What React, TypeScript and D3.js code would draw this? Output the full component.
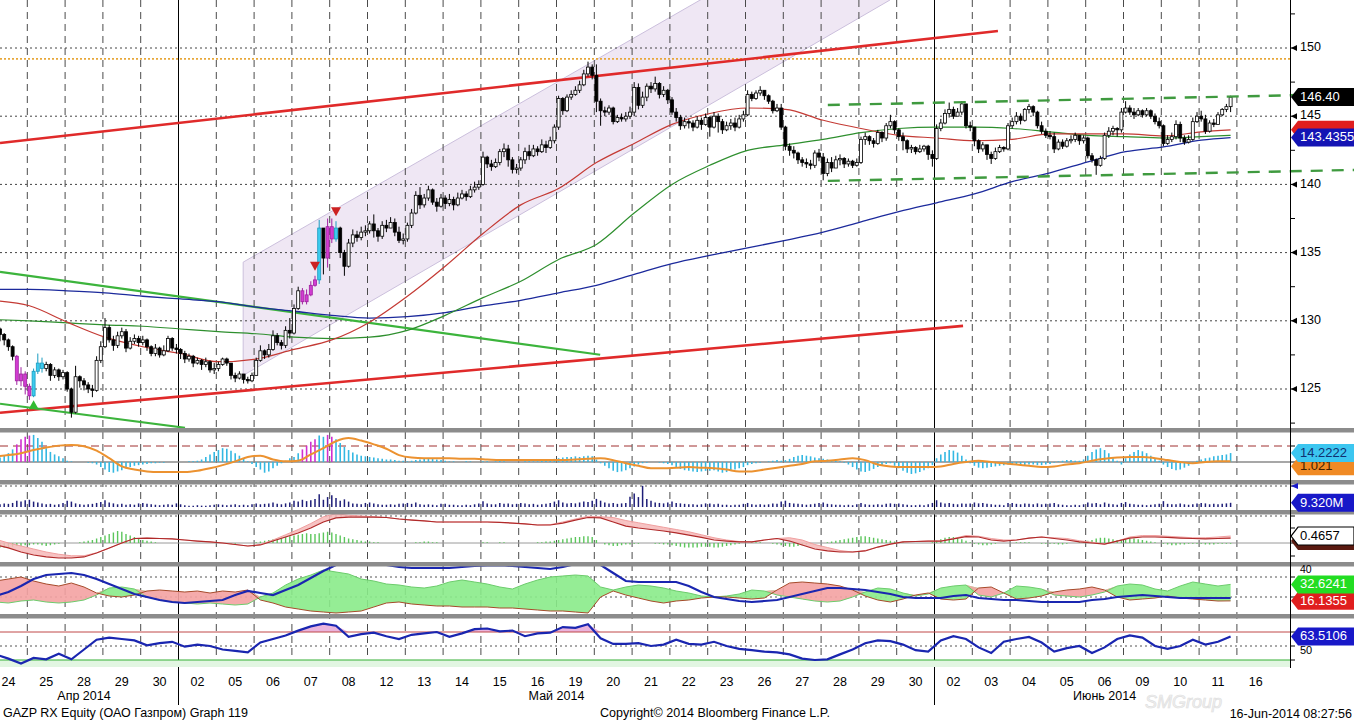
import * as d3 from 'd3';

// ---------- data ----------
const dayLabels = ['24', '25', '28', '29', '30', '02', '05', '06', '07', '08', '12', '13', '14', '15', '16', '19', '20', '21', '22', '23', '26', '27', '28', '29', '30', '02', '03', '04', '05', '06', '09', '10', '11', '16'];
const monthLabels = ['Апр 2014', 'Май 2014', 'Июнь 2014'];
const monthCenters = [2.5, 15, 29.5]; // in trading-day units
const monthBreaks = [5, 25];

// hourly candles, one row per trading day
const firstOpen = 130.0;
const closes = [
  [129.8, 129.4, 129.0, 128.6, 128.1, 127.4, 125.6, 126.1, 125.2],
  [124.5, 126.3, 126.9, 126.5, 126.8, 126.0, 126.4, 125.9, 126.2],
  [125.0, 123.3, 125.9, 125.6, 125.3, 125.0, 124.9, 127.1, 128.1],
  [129.5, 128.6, 128.2, 128.9, 129.2, 128.0, 128.5, 128.7, 128.4],
  [128.6, 128.1, 127.6, 128.0, 127.5, 127.8, 128.7, 128.0, 127.9],
  [127.6, 127.2, 127.4, 126.9, 127.1, 126.8, 127.0, 126.4, 126.5],
  [126.8, 127.2, 126.9, 126.0, 125.8, 126.1, 125.7, 125.6, 126.0],
  [127.1, 127.8, 127.5, 127.9, 128.9, 128.4, 128.2, 129.3, 129.1],
  [130.9, 132.2, 131.4, 131.9, 132.6, 133.0, 136.8, 134.6, 136.9],
  [136.0, 136.8, 135.0, 134.0, 135.7, 136.3, 136.1, 136.5, 136.6],
  [137.1, 136.6, 136.2, 137.0, 136.8, 137.2, 136.5, 135.9, 136.0],
  [137.0, 137.9, 139.2, 138.5, 139.0, 139.6, 138.7, 138.4, 139.0],
  [138.6, 138.9, 138.5, 139.0, 139.3, 139.1, 139.6, 139.8, 140.0],
  [142.0, 141.5, 141.3, 141.6, 142.4, 142.6, 141.8, 141.1, 141.2],
  [141.8, 142.4, 142.1, 142.6, 142.4, 142.9, 142.7, 143.2, 144.2],
  [146.3, 145.4, 146.4, 146.6, 146.9, 147.3, 148.1, 148.6, 148.0],
  [146.1, 145.4, 145.3, 145.6, 144.6, 144.9, 144.8, 145.0, 145.3],
  [147.1, 145.8, 146.4, 147.2, 147.0, 147.4, 146.6, 146.9, 146.2],
  [145.3, 144.9, 144.3, 144.6, 144.5, 144.2, 144.7, 144.4, 144.9],
  [144.2, 145.0, 144.6, 144.0, 144.3, 144.5, 144.2, 144.8, 145.1],
  [146.6, 146.3, 146.7, 146.9, 146.5, 146.1, 145.4, 145.6, 144.2],
  [142.8, 142.5, 142.3, 141.8, 141.6, 141.5, 141.4, 142.3, 142.0],
  [140.8, 141.6, 141.2, 141.8, 141.9, 141.5, 141.7, 141.4, 141.6],
  [143.3, 143.5, 143.2, 143.0, 143.8, 143.4, 144.3, 144.6, 144.0],
  [143.5, 143.2, 142.6, 142.7, 142.4, 142.6, 142.8, 142.2, 141.9],
  [144.1, 144.5, 145.2, 145.5, 145.0, 145.3, 145.9, 144.3, 144.2],
  [143.2, 142.6, 142.9, 142.2, 141.9, 142.4, 142.7, 142.6, 144.3],
  [144.6, 145.0, 144.7, 145.5, 145.7, 145.3, 144.3, 143.9, 143.6],
  [143.5, 142.6, 143.1, 142.8, 143.2, 143.3, 143.6, 143.2, 143.4],
  [142.1, 141.8, 141.4, 141.9, 143.6, 143.9, 144.1, 144.0, 145.3],
  [145.6, 145.3, 145.1, 145.4, 145.1, 145.4, 145.0, 144.6, 144.3],
  [143.0, 143.3, 143.5, 144.4, 143.4, 143.1, 143.3, 144.6, 145.0],
  [144.8, 143.9, 144.5, 144.4, 145.1, 145.5, 145.7, 146.4],
];
const highs = [
  [130.0, 129.9, 129.5, 129.1, 128.7, 128.2, 127.5, 126.6, 126.3],
  [125.4, 126.5, 127.6, 127.3, 127.0, 126.9, 126.6, 126.5, 126.4],
  [126.3, 125.1, 126.7, 126.0, 125.8, 125.5, 125.3, 127.4, 128.5],
  [130.2, 129.7, 128.9, 129.2, 129.5, 129.4, 128.8, 129.0, 128.9],
  [128.9, 128.7, 128.2, 128.3, 128.1, 128.2, 128.9, 128.8, 128.3],
  [128.0, 127.8, 127.6, 127.5, 127.3, 127.2, 127.3, 127.1, 126.9],
  [127.0, 127.3, 127.3, 126.9, 126.2, 126.3, 126.1, 125.9, 126.2],
  [127.3, 128.2, 127.9, 128.3, 129.3, 129.1, 128.6, 129.6, 130.2],
  [131.2, 132.5, 132.4, 132.3, 132.9, 133.3, 137.4, 135.4, 137.5],
  [137.5, 137.3, 136.9, 135.2, 136.0, 136.7, 136.6, 136.9, 137.0],
  [137.3, 137.8, 136.8, 137.3, 137.4, 137.6, 137.5, 136.9, 136.4],
  [137.2, 138.2, 139.5, 139.8, 139.3, 139.9, 139.7, 139.0, 139.3],
  [139.2, 139.3, 139.1, 139.4, 139.6, 139.5, 139.9, 140.2, 140.3],
  [142.4, 142.1, 141.8, 141.9, 142.6, 143.0, 142.9, 142.0, 141.5],
  [142.0, 142.7, 142.9, 142.9, 142.8, 143.3, 143.2, 143.5, 144.4],
  [146.5, 146.4, 146.6, 146.9, 147.2, 147.6, 148.4, 149.0, 148.8],
  [148.8, 146.3, 145.7, 145.8, 145.7, 145.1, 145.2, 145.3, 145.7],
  [147.5, 147.4, 146.8, 147.4, 147.5, 147.9, 147.5, 147.2, 147.0],
  [146.4, 145.6, 145.1, 144.9, 144.8, 144.7, 145.0, 144.9, 145.2],
  [145.0, 145.3, 145.2, 144.8, 144.6, 144.8, 144.9, 145.1, 145.4],
  [146.9, 146.8, 146.9, 147.2, 146.9, 146.6, 146.2, 145.9, 145.9],
  [144.3, 143.0, 142.8, 142.4, 142.0, 141.9, 141.8, 142.5, 142.6],
  [142.3, 141.9, 142.0, 142.1, 142.2, 142.0, 141.9, 141.8, 141.9],
  [143.5, 143.8, 143.6, 143.4, 144.0, 143.9, 144.5, 145.1, 144.7],
  [144.1, 143.8, 143.3, 142.9, 142.8, 142.9, 142.9, 142.9, 142.5],
  [144.4, 144.8, 145.5, 146.0, 145.7, 145.6, 146.1, 145.2, 144.6],
  [143.9, 143.3, 143.1, 142.9, 142.4, 142.7, 142.9, 142.8, 144.5],
  [144.9, 145.3, 145.2, 145.6, 145.9, 145.8, 145.4, 144.6, 144.1],
  [143.9, 143.8, 143.3, 143.3, 143.4, 143.6, 143.8, 143.6, 143.6],
  [143.5, 142.3, 141.9, 142.1, 143.8, 144.2, 144.3, 144.2, 145.6],
  [146.1, 145.8, 145.6, 145.6, 145.5, 145.6, 145.5, 145.2, 144.9],
  [144.4, 143.6, 143.8, 144.7, 144.6, 143.6, 143.6, 144.9, 145.3],
  [145.4, 145.1, 144.7, 144.8, 145.3, 145.6, 145.9, 146.5],
];
const lows = [
  [129.3, 129.0, 128.5, 128.2, 127.8, 127.1, 125.3, 125.2, 124.6],
  [124.2, 124.4, 126.1, 126.2, 126.3, 125.6, 125.8, 125.6, 125.7],
  [124.8, 122.9, 123.2, 125.1, 124.9, 124.7, 124.4, 124.8, 126.9],
  [128.0, 128.4, 127.8, 128.0, 128.7, 127.7, 127.9, 128.3, 128.1],
  [128.2, 127.8, 127.4, 127.4, 127.3, 127.4, 127.7, 127.8, 127.6],
  [127.2, 126.9, 127.0, 126.6, 126.8, 126.4, 126.6, 126.2, 126.1],
  [126.3, 126.7, 126.7, 125.7, 125.5, 125.7, 125.4, 125.4, 125.5],
  [126.1, 127.0, 127.2, 127.3, 127.8, 128.2, 127.9, 128.0, 128.7],
  [129.0, 130.8, 131.2, 131.2, 131.8, 132.5, 132.7, 133.4, 133.9],
  [135.7, 135.8, 134.6, 133.3, 133.9, 135.4, 135.8, 135.9, 136.2],
  [136.4, 136.1, 135.8, 136.0, 136.5, 136.8, 136.2, 135.7, 135.6],
  [135.8, 136.8, 137.8, 138.2, 138.3, 138.8, 138.5, 138.0, 138.3],
  [138.2, 138.4, 138.1, 138.4, 138.9, 138.8, 139.0, 139.4, 139.6],
  [139.9, 141.2, 141.0, 141.2, 141.4, 142.0, 141.3, 140.8, 140.8],
  [141.0, 141.5, 141.8, 142.0, 142.1, 142.3, 142.3, 142.6, 143.0],
  [144.0, 145.1, 145.3, 146.2, 146.5, 146.7, 147.2, 147.9, 147.7],
  [145.3, 144.3, 145.0, 145.1, 144.4, 144.5, 144.6, 144.6, 144.8],
  [145.0, 145.5, 145.6, 146.1, 146.7, 146.8, 146.3, 146.4, 145.9],
  [145.1, 144.6, 144.0, 144.1, 144.1, 143.9, 144.1, 144.0, 144.3],
  [143.5, 144.1, 143.8, 143.7, 143.9, 144.0, 143.9, 144.1, 144.6],
  [145.0, 146.1, 146.2, 146.5, 146.2, 145.9, 145.2, 145.3, 144.0],
  [142.5, 142.1, 141.9, 141.5, 141.3, 141.2, 141.1, 141.2, 141.7],
  [140.3, 140.6, 140.9, 141.2, 141.4, 141.2, 141.3, 141.2, 141.3],
  [141.5, 142.9, 142.9, 142.7, 142.9, 143.1, 143.2, 144.1, 143.7],
  [143.2, 142.5, 142.3, 142.3, 142.2, 142.3, 142.4, 141.8, 141.3],
  [141.8, 143.9, 144.4, 144.9, 144.8, 145.0, 145.1, 144.1, 143.9],
  [142.8, 142.3, 142.4, 141.8, 141.5, 141.8, 142.3, 142.4, 142.5],
  [144.1, 144.4, 144.4, 144.6, 145.2, 145.0, 144.1, 143.7, 143.4],
  [143.3, 142.3, 142.5, 142.6, 142.7, 143.0, 143.1, 142.9, 143.0],
  [141.9, 141.6, 140.7, 141.3, 141.8, 143.4, 143.6, 143.5, 143.8],
  [145.2, 145.1, 144.8, 145.0, 144.9, 145.0, 144.8, 144.4, 144.1],
  [142.8, 142.9, 143.1, 143.3, 143.1, 142.9, 143.0, 143.2, 144.5],
  [144.6, 143.7, 143.8, 144.2, 144.4, 145.0, 145.3, 145.3],
];
const magentaBars = ['0-6', '0-7', '0-8', '1-0', '8-2', '8-3', '8-4', '8-5', '8-8', '9-0'];
const cyanBars = ['1-1', '1-2', '1-3', '8-6', '9-1'];
const signalUp = ['1-1'];
const signalDown = ['8-5', '9-1'];

// moving averages: sampled at the first bar of each day, plus the last bar
const maRed = [131.5, 131.1, 129.9, 128.8, 128.1, 127.6, 127.0, 127.2, 127.9, 128.6, 129.9, 131.8, 134.0, 136.4, 138.5, 139.7, 141.6, 143.0, 144.4, 145.2, 145.6, 145.5, 144.7, 144.1, 143.6, 143.4, 143.2, 143.3, 143.7, 143.7, 143.7, 143.55, 143.85, 144.0];
const maGreen = [130.1, 130.0, 129.85, 129.7, 129.6, 129.4, 129.2, 129.05, 128.8, 128.7, 128.8, 129.3, 130.4, 131.7, 132.9, 134.5, 135.6, 137.9, 140.0, 141.4, 142.5, 142.9, 143.3, 143.8, 144.1, 144.2, 144.2, 144.1, 143.85, 143.6, 143.5, 143.4, 143.5, 143.6];
const maBlue = [132.3, 132.3, 132.2, 132.05, 131.8, 131.6, 131.4, 131.0, 130.7, 130.4, 130.2, 130.3, 130.6, 131.1, 131.5, 132.05, 132.6, 133.4, 134.2, 134.8, 135.35, 135.9, 136.5, 137.25, 138.0, 138.65, 139.3, 140.2, 140.85, 141.65, 142.4, 142.75, 143.25, 143.4355];

// drawn studies, as [bar index, price]
const redTop = [[2.5, 143.04], [240.1, 151.25]];
const redBottom = [[2.5, 123.26], [231.8, 129.63]];
const greenFalling = [[2.5, 133.59], [145.4, 127.51]];
const greenLow = [[2.5, 123.92], [46.55, 122.16]];
const rangeTop = [[199.6, 145.82], [324.9, 146.63]];
const rangeBottom = [[199.6, 140.26], [324.9, 141.06]];
const channelTop = [[60.4, 134.3], [214.4, 161.5]];
const channelBottom = [[60.4, 126.0], [214.4, 153.52]];
const resistance = 149.2;

// oscillator panel (bars)
const macdHist = [
  [3, 5, 7, 10, 14, 20, 28, 36, 40],
  [42, 43, 38, 32, 22, 16, 12, 9, 6],
  [2, 1, 0, 0, 0, -1, -2, -4, -8],
  [-12, -16, -17, -15, -13, -10, -8, -6, -5],
  [-4, -3, -2, -2, -1, -1, 0, 0, 0],
  [0, 0, 1, 1, 2, 4, 8, 12, 16],
  [19, 22, 21, 18, 14, 10, 5, 1, -3],
  [-8, -12, -17, -15, -10, -6, -2, 2, 6],
  [8, 14, 20, 26, 32, 36, 42, 40, 43],
  [40, 36, 30, 24, 19, 15, 12, 10, 9],
  [8, 7, 6, 5, 4, 4, 3, 2, 2],
  [1, 2, 3, 4, 5, 6, 5, 4, 3],
  [2, 1, 1, 0, 0, 1, 1, 0, 0],
  [1, 1, 0, 1, 2, 1, 0, 0, 0],
  [0, 1, 1, 1, 1, 2, 2, 3, 5],
  [6, 7, 8, 8, 9, 8, 9, 10, 9],
  [4, -2, -6, -10, -14, -16, -15, -13, -10],
  [-7, -4, -2, -1, 0, 0, -1, -2, -3],
  [-5, -8, -11, -13, -14, -15, -16, -15, -14],
  [-14, -13, -15, -17, -16, -14, -12, -10, -8],
  [-5, -3, -2, -1, 0, 1, 2, 3, 2],
  [3, 5, 8, 10, 11, 10, 9, 7, 6],
  [5, 4, 3, 2, 1, -1, -4, -8, -12],
  [-15, -16, -14, -11, -8, -5, -3, -2, -6],
  [-10, -14, -17, -19, -18, -16, -13, -10, -5],
  [6, 12, 16, 19, 18, 15, 10, 4, -2],
  [-6, -9, -10, -9, -8, -7, -6, -5, -4],
  [-3, -4, -5, -5, -4, -4, -5, -5, -4],
  [-3, -1, 1, 2, 3, 3, 2, 2, 4],
  [10, 16, 20, 22, 19, 14, 8, 2, -4],
  [6, 12, 16, 19, 17, 14, 10, 6, 2],
  [-4, -8, -11, -13, -12, -9, -6, -2, 2],
  [4, 6, 7, 9, 10, 11, 12, 14.2222],
];
// volume, millions
const volume = [
  [9, 7, 6, 8, 7, 9, 14, 12, 15],
  [16, 12, 10, 8, 6, 7, 5, 6, 9],
  [14, 12, 8, 6, 5, 6, 7, 9, 11],
  [15, 10, 8, 6, 7, 5, 6, 5, 8],
  [9, 7, 6, 5, 4, 5, 6, 5, 8],
  [6, 4, 3, 3, 4, 3, 3, 4, 5],
  [6, 5, 4, 5, 6, 4, 5, 4, 6],
  [8, 6, 7, 8, 10, 7, 6, 8, 10],
  [14, 12, 16, 13, 15, 18, 28, 16, 22],
  [26, 20, 14, 17, 12, 8, 7, 6, 9],
  [10, 8, 6, 5, 5, 6, 5, 7, 8],
  [9, 7, 10, 6, 5, 6, 5, 4, 7],
  [7, 5, 5, 4, 4, 5, 4, 6, 8],
  [13, 8, 6, 6, 9, 7, 8, 6, 7],
  [9, 8, 6, 7, 5, 6, 7, 9, 12],
  [15, 10, 8, 9, 8, 10, 12, 11, 14],
  [18, 14, 10, 8, 9, 7, 8, 9, 23],
  [30, 22, 47, 18, 14, 10, 9, 8, 10],
  [12, 9, 8, 7, 6, 6, 5, 6, 8],
  [8, 6, 7, 5, 5, 4, 5, 5, 7],
  [9, 6, 5, 6, 5, 6, 8, 7, 12],
  [14, 9, 8, 7, 6, 5, 6, 7, 9],
  [10, 7, 6, 5, 5, 4, 5, 4, 6],
  [9, 6, 5, 5, 6, 5, 7, 8, 7],
  [8, 6, 5, 4, 4, 5, 4, 6, 9],
  [15, 10, 8, 9, 7, 6, 8, 7, 8],
  [10, 8, 9, 7, 6, 5, 5, 4, 9],
  [9, 7, 6, 8, 7, 6, 8, 6, 7],
  [8, 9, 6, 5, 4, 4, 5, 4, 6],
  [10, 8, 9, 6, 10, 7, 6, 5, 9],
  [11, 7, 6, 5, 5, 4, 5, 6, 7],
  [13, 7, 6, 6, 8, 6, 5, 6, 8],
  [9, 8, 6, 7, 6, 7, 8, 9.32],
];
const oscHist = [
  [-0.2, -0.25, -0.3, -0.3, -0.3, -0.25, -0.2, -0.2, -0.15],
  [-0.15, -0.1, -0.1, -0.15, -0.2, -0.15, -0.1, -0.05, 0],
  [0, 0, 0, 0.05, 0.1, 0.15, 0.2, 0.3, 0.4],
  [0.5, 0.6, 0.7, 0.8, 0.75, 0.6, 0.5, 0.4, 0.3],
  [0.2, 0.15, 0.1, 0.05, 0, 0, 0, 0, 0],
  [0, 0, 0, 0, 0, 0, 0, 0, 0],
  [0, 0, -0.05, -0.05, -0.05, 0, 0, 0, 0],
  [0.05, 0.1, 0.15, 0.2, 0.25, 0.3, 0.35, 0.4, 0.45],
  [0.5, 0.55, 0.6, 0.65, 0.6, 0.6, 0.65, 0.7, 0.75],
  [0.7, 0.6, 0.5, 0.4, 0.3, 0.25, 0.2, 0.15, 0.1],
  [0.1, 0.05, 0.05, 0, 0, 0, 0, 0, 0],
  [0, 0, 0.05, 0.05, 0.1, 0.1, 0.05, 0.05, 0],
  [0, 0, 0, 0, 0, 0, 0, 0, 0],
  [0.05, 0.05, 0, 0, 0.05, 0.05, 0, 0, 0],
  [0, 0, 0, 0, 0.05, 0.05, 0.1, 0.1, 0.15],
  [0.2, 0.25, 0.3, 0.35, 0.4, 0.4, 0.45, 0.45, 0.4],
  [0.2, 0, -0.1, -0.15, -0.2, -0.2, -0.15, -0.1, -0.1],
  [-0.05, -0.05, 0, 0, 0, -0.05, -0.05, -0.1, -0.1],
  [-0.15, -0.2, -0.25, -0.3, -0.3, -0.3, -0.3, -0.25, -0.25],
  [-0.25, -0.3, -0.3, -0.25, -0.2, -0.15, -0.1, -0.05, 0],
  [0, 0.05, 0.05, 0.05, 0, 0, -0.05, -0.1, -0.15],
  [-0.2, -0.25, -0.25, -0.2, -0.15, -0.1, -0.05, 0, 0],
  [0, 0.05, 0.1, 0.15, 0.2, 0.25, 0.3, 0.35, 0.4],
  [0.45, 0.45, 0.4, 0.35, 0.3, 0.25, 0.2, 0.15, 0.1],
  [0.05, 0.05, 0, 0, 0, 0, 0, 0, 0.05],
  [0.15, 0.25, 0.35, 0.4, 0.4, 0.35, 0.25, 0.15, 0.05],
  [-0.05, -0.1, -0.15, -0.15, -0.1, -0.05, 0, 0, 0],
  [0, 0.05, 0.05, 0.05, 0.05, 0, 0, -0.05, -0.05],
  [-0.05, -0.05, -0.1, -0.1, -0.05, 0, 0, 0.05, 0.1],
  [0.15, 0.2, 0.3, 0.35, 0.35, 0.3, 0.25, 0.2, 0.2],
  [0.25, 0.3, 0.3, 0.25, 0.2, 0.15, 0.1, 0.05, 0],
  [-0.05, -0.1, -0.15, -0.15, -0.1, -0.1, -0.05, -0.05, -0.05],
  [-0.05, -0.1, -0.1, -0.1, -0.05, -0.05, -0.05, -0.05],
];

// line studies: three samples per day (bars 1, 4, 7)
const macdSignal = [
  9, 11, 14, 19, 23, 26, 27, 25, 18, 6, -7, -12, -15, -16, -16, -16, -14, -10,
  -5, 1, 8, 10, 4, 1, 2, 12, 22, 33, 38, 34, 28, 21, 11, 7, 6, 6,
  6, 5, 5, 4, 3, 3, 3, 3, 3, 3, 4, 5, 6, 3, -2, -6, -10, -10,
  -9, -8, -9, -10, -12, -15, -15, -12, -9, -6, -3, 1, 2, 4, 6, 3, -4, -7,
  -8, -8, -8, -7, -3, 0, 2, 0, -2, -4, -6, -8, -7, -4, -2, 2, 5, 7,
  8, 8, 6, 3, 0, -2, 0, 1, 1.021,
];
const oscLine = [
  -0.13, -0.33, -0.6, -0.8, -0.93, -1.0, -1.0, -0.93, -0.67, -0.33, 0, 0.3, 0.33, 0.3, 0.27, 0.2, 0.13, 0.07,
  0, -0.1, -0.2, -0.13, 0.13, 0.4, 0.67, 1.0, 1.4, 1.67, 1.73, 1.73, 1.73, 1.7, 1.6, 1.53, 1.47, 1.4,
  1.4, 1.4, 1.4, 1.4, 1.37, 1.33, 1.27, 1.2, 1.2, 1.33, 1.53, 1.7, 1.67, 1.4, 1.13, 1.0, 0.9, 0.8,
  0.67, 0.53, 0.37, 0.2, 0.13, 0.07, 0.07, 0.2, 0.3, 0.13, -0.13, -0.4, -0.53, -0.6, -0.6, -0.53, -0.27, -0.07,
  0.07, 0.1, 0.13, 0.13, 0.27, 0.43, 0.4, 0.2, 0.13, 0.2, 0.33, 0.4, 0.3, 0.2, 0.07, 0, -0.07, 0.13,
  0.33, 0.4, 0.4, 0.37, 0.33, 0.3, 0.27, 0.3, 0.33,
];
const oscSignal = [
  0.25, 0.0, -0.2, -0.4, -0.6, -0.75, -0.85, -0.85, -0.65, -0.35, 0.0, 0.3, 0.33, 0.3, 0.27, 0.2, 0.13, 0.07,
  0.0, -0.1, -0.2, -0.1, 0.2, 0.55, 0.9, 1.3, 1.75, 1.95, 1.85, 1.8, 1.75, 1.7, 1.6, 1.55, 1.47, 1.4,
  1.4, 1.4, 1.4, 1.4, 1.37, 1.33, 1.27, 1.2, 1.22, 1.4, 1.6, 1.78, 1.75, 1.7, 1.5, 1.35, 1.2, 1.05,
  0.9, 0.75, 0.55, 0.35, 0.2, 0.1, 0.07, 0.2, 0.3, 0.35, 0.2, -0.1, -0.3, -0.5, -0.6, -0.5, -0.27, -0.07,
  0.07, 0.1, 0.13, 0.13, 0.3, 0.5, 0.45, 0.3, 0.2, 0.2, 0.33, 0.4, 0.35, 0.3, 0.15, 0.05, -0.07, 0.13,
  0.4, 0.5, 0.5, 0.45, 0.4, 0.35, 0.35, 0.4, 0.4657,
];
const adx = [
  21, 25, 31, 38, 42, 43, 44, 42, 38, 33, 28, 23, 20, 17, 15, 14, 15, 16,
  17, 22, 26, 24, 22, 27, 32, 39, 46, 52, 55, 56, 55, 52, 50, 49, 49, 49,
  49, 50, 51, 51.5, 52, 51, 50, 49, 48, 50, 53, 55, 52, 44, 36, 35, 35, 35,
  35, 31, 25, 20, 18, 16, 15, 16, 17, 20, 23, 26, 29, 29, 28, 27, 25, 23,
  20, 19, 19, 19, 21, 22, 19, 18, 17, 17, 16, 15, 15, 15, 15, 17, 18, 20,
  21, 22, 21, 20, 19, 19, 19, 19, 19,
];
const diPlus = [
  15, 14, 16, 17, 15, 14, 15, 17, 22, 29, 30, 28, 20, 17, 15, 14, 13, 14,
  13, 12, 13, 20, 24, 32, 38, 42, 47, 45, 43, 38, 36, 33, 32, 30, 29, 31,
  35, 37, 35, 33, 30, 28, 33, 37, 40, 41, 42, 41, 30, 27, 30, 32, 31, 29,
  26, 24, 21, 20, 21, 23, 27, 26, 22, 20, 18, 16, 15, 16, 20, 25, 29, 28,
  24, 21, 23, 29, 31, 32, 22, 20, 24, 31, 30, 28, 22, 21, 20, 22, 25, 31,
  33, 32, 28, 26, 31, 35, 33, 31, 32.6241,
];
const diMinus = [
  36, 38, 40, 36, 33, 31, 34, 30, 24, 21, 20, 22, 26, 27, 26, 25, 26, 24,
  26, 25, 27, 17, 14, 10, 8, 6, 5, 4, 5, 6, 10, 14, 15, 13, 12, 11,
  11, 10, 10, 10, 9, 9, 8, 7, 6, 6, 5, 4, 20, 26, 22, 19, 16, 14,
  16, 17, 19, 20, 20, 19, 18, 19, 27, 34, 35, 34, 33, 31, 27, 21, 17, 15,
  18, 22, 24, 18, 17, 18, 29, 30, 24, 18, 19, 21, 25, 27, 28, 30, 27, 20,
  17, 18, 19, 21, 19, 18, 17, 16, 16.1355,
];
const rsi = [
  38, 32, 25, 33, 31, 39, 31, 45, 59, 62, 60, 58, 51, 54, 56, 49, 52, 50,
  45, 43, 41, 55, 60, 65, 72, 78, 82, 79, 63, 67, 69, 64, 60, 66, 68, 70,
  63, 68, 74, 75, 71, 72, 64, 68, 69, 77, 76, 81, 61, 53, 53, 54, 50, 52,
  59, 53, 52, 56, 50, 46, 44, 42, 41, 38, 32, 30, 31, 38, 45, 54, 58, 57,
  52, 44, 42, 58, 64, 60, 48, 40, 56, 60, 63, 55, 42, 47, 50, 40, 48, 60,
  65, 62, 50, 46, 50, 59, 52, 56, 63.5106,
];

// ---------- layout ----------
const W = 1354;
const H = 723;
const AXIS_X = 1290;
const FONT = "'Liberation Sans', Arial, sans-serif";
const separators = [428, 480, 510, 562, 614];
const panel = {
  main: [0, 428],
  macd: [432, 480],
  vol: [484, 510],
  osc: [514, 562],
  dmi: [566, 614],
  rsi: [618, 667],
};

type Tag = { y: number; text: string; bg: string; fg: string; stroke?: string };

function TagBox({ y, text, bg, fg, stroke }: Tag) {
  const d = `M${AXIS_X + 1},${y} L${AXIS_X + 8},${y - 9} L${W},${y - 9} L${W},${y + 9} L${AXIS_X + 8},${y + 9} Z`;
  return (
    <g>
      <path d={d} fill={bg} stroke={stroke ?? 'none'} strokeWidth={1.2} />
      <text x={AXIS_X + 10} y={y + 0.5} fill={fg} fontSize={13} fontFamily={FONT} dominantBaseline="middle">
        {text}
      </text>
    </g>
  );
}

export default function App(): JSX.Element {
  const dayCount = closes.length;
  const xDay = d3.scaleLinear().domain([0, 34]).range([-10.5, -10.5 + 37.8 * 34]);
  const barX = (i: number, j: number) => xDay(i + (j + 0.5) / 9);
  const uX = (u: number) => xDay(u / 9);
  const gridX = (n: number) => barX(Math.floor(n / 3), 1 + 3 * (n % 3));
  const maX = (n: number) => (n < dayCount ? barX(n, 0) : barX(dayCount - 1, closes[dayCount - 1].length - 1));

  const yMain = d3.scaleLinear().domain([125, 150]).range([389, 48]);
  const yMacd = d3.scaleLinear().domain([0, 25.4]).range([462, 446]);
  const yVol = d3.scaleLinear().domain([0, 47]).range([507, 485.8]);
  const yOsc = d3.scaleLinear().domain([0, 1]).range([543, 528]);
  const yDmi = d3.scaleLinear().domain([20, 40]).range([597, 577]);
  const yRsi = d3.scaleLinear().domain([30, 70]).range([660, 632]);

  // candles
  type Bar = { i: number; j: number; key: string; o: number; h: number; l: number; c: number };
  const bars: Bar[] = [];
  let prev = firstOpen;
  closes.forEach((row, i) =>
    row.forEach((c, j) => {
      const o = prev;
      bars.push({ i, j, key: `${i}-${j}`, o, c, h: Math.max(highs[i][j], o, c), l: Math.min(lows[i][j], o, c) });
      prev = c;
    })
  );

  const lineGrid = (ys: (v: number) => number) =>
    d3.line<number>().x((_, n) => gridX(n)).y((v) => ys(v)).curve(d3.curveLinear);
  const maLine = d3.line<number>().x((_, n) => maX(n)).y((v) => yMain(v)).curve(d3.curveMonotoneX);
  const seg = (pts: number[][]) => d3.line<number[]>().x((p) => uX(p[0])).y((p) => yMain(p[1]))(pts) as string;

  const channelPoly = [
    [uX(channelTop[0][0]), yMain(channelTop[0][1])],
    [uX(channelTop[1][0]), yMain(channelTop[1][1])],
    [uX(channelBottom[1][0]), yMain(channelBottom[1][1])],
    [uX(channelBottom[0][0]), yMain(channelBottom[0][1])],
  ]
    .map((p) => p.join(','))
    .join(' ');

  const dmiGreen = d3
    .area<number>()
    .x((_, n) => gridX(n))
    .y0((_, n) => yDmi(diMinus[n]))
    .y1((v, n) => yDmi(Math.max(v, diMinus[n])))(diPlus) as string;
  const dmiPink = d3
    .area<number>()
    .x((_, n) => gridX(n))
    .y0((_, n) => yDmi(diPlus[n]))
    .y1((v, n) => yDmi(Math.max(v, diPlus[n])))(diMinus) as string;
  const rsiHigh = d3
    .area<number>()
    .x((_, n) => gridX(n))
    .y0(yRsi(70))
    .y1((v) => yRsi(Math.max(v, 70)))(rsi) as string;
  const oscFill = d3
    .area<number>()
    .x((_, n) => gridX(n))
    .y0((_, n) => yOsc(oscLine[n]))
    .y1((v) => yOsc(v))(oscSignal) as string;

  const barColor = (key: string) =>
    magentaBars.includes(key) ? 'm' : cyanBars.includes(key) ? 'c' : '';

  const last = bars[bars.length - 1];
  const priceTicks = d3.range(122.5, 153.6, 2.5);
  const gridDays = d3.range(1, 34).filter((d) => !monthBreaks.includes(d));

  // the orange tag sits a little lower so its label peeks out below the cyan one
  const tags: Tag[] = [
    { y: yMacd(macdSignal[macdSignal.length - 1]) + 5, text: '1.021', bg: '#f08a24', fg: '#402000' },
    { y: yMacd(macdHist[dayCount - 1][macdHist[dayCount - 1].length - 1]), text: '14.2222', bg: '#3cc6f0', fg: '#103070' },
    { y: yVol(volume[dayCount - 1][volume[dayCount - 1].length - 1]), text: '9.320M', bg: '#1818c8', fg: '#ffffff' },
    { y: yOsc(oscLine[oscLine.length - 1]) + 3, text: '', bg: '#5a1a10', fg: '#ffffff' },
    { y: yOsc(oscSignal[oscSignal.length - 1]), text: '0.4657', bg: '#ffffff', fg: '#000000', stroke: '#000000' },
    { y: yDmi(diMinus[diMinus.length - 1]), text: '16.1355', bg: '#e01e1e', fg: '#ffffff' },
    { y: yDmi(diPlus[diPlus.length - 1]), text: '32.6241', bg: '#22dd22', fg: '#ffffff' },
    { y: yRsi(rsi[rsi.length - 1]), text: '63.5106', bg: '#1818c8', fg: '#ffffff' },
    { y: yMain(last.c), text: last.c.toFixed(2), bg: '#000000', fg: '#ffffff' },
    { y: yMain(maRed[maRed.length - 1]), text: '', bg: '#e01e1e', fg: '#ffffff' },
    { y: yMain(maBlue[maBlue.length - 1]), text: maBlue[maBlue.length - 1].toFixed(4), bg: '#1414b4', fg: '#ffffff' },
  ];

  const clipRect = (id: string, y0: number, y1: number) => (
    <clipPath id={id}>
      <rect x={0} y={y0} width={AXIS_X} height={y1 - y0} />
    </clipPath>
  );

  return (
    <svg
      xmlns="http://www.w3.org/2000/svg"
      width={W}
      height={H}
      style={{ position: 'absolute', left: 0, top: 0, background: '#fff' }}
    >
      <defs>
        {clipRect('cMain', panel.main[0], panel.main[1])}
        {clipRect('cMacd', panel.macd[0], panel.macd[1])}
        {clipRect('cVol', panel.vol[0], panel.vol[1])}
        {clipRect('cOsc', panel.osc[0], panel.osc[1])}
        {clipRect('cDmi', panel.dmi[0], panel.dmi[1])}
        {clipRect('cRsi', panel.rsi[0], panel.rsi[1])}
      </defs>
      <rect width={W} height={H} fill="#ffffff" />

      {/* main price panel */}
      <g clipPath="url(#cMain)">
        <polygon points={channelPoly} fill="#efe7f4" stroke="#cbbfdc" strokeWidth={1} />
        {priceTicks
          .filter((v) => v % 5 === 0)
          .map((v) => (
            <line key={v} x1={0} x2={AXIS_X} y1={yMain(v)} y2={yMain(v)} stroke="#444" strokeDasharray="2,3" />
          ))}
        <line x1={0} x2={AXIS_X} y1={yMain(resistance)} y2={yMain(resistance)} stroke="#e8a83a" strokeWidth={1.6} strokeDasharray="2,2" />
      </g>

      {/* vertical day grid across all panels */}
      {gridDays.map((d) => (
        <line key={d} x1={xDay(d)} x2={xDay(d)} y1={0} y2={668} stroke="#4a4a4a" strokeDasharray="7,5" />
      ))}
      {monthBreaks.map((d) => (
        <line key={d} x1={xDay(d)} x2={xDay(d)} y1={0} y2={705} stroke="#000" strokeWidth={1} />
      ))}

      <g clipPath="url(#cMain)">
        <path d={seg(redTop)} stroke="#e02a2a" strokeWidth={2.6} fill="none" />
        <path d={seg(redBottom)} stroke="#e02a2a" strokeWidth={2.6} fill="none" />
        <path d={seg(greenFalling)} stroke="#3cb43c" strokeWidth={2.2} fill="none" />
        <path d={seg(greenLow)} stroke="#3cb43c" strokeWidth={2.2} fill="none" />
        <path d={maLine(maBlue) as string} stroke="#1c2a9c" strokeWidth={1.3} fill="none" />
        <path d={maLine(maGreen) as string} stroke="#2e8f2e" strokeWidth={1.2} fill="none" />
        <path d={maLine(maRed) as string} stroke="#c43a34" strokeWidth={1.2} fill="none" />
        {bars.map((b) => {
          const x = barX(b.i, b.j);
          const kind = barColor(b.key);
          const up = b.c >= b.o;
          const fill = kind === 'm' ? '#d23cd2' : kind === 'c' ? '#3ccbee' : up ? '#ffffff' : '#000000';
          const stroke = kind === 'm' ? '#a020a0' : kind === 'c' ? '#1a9cc0' : '#000000';
          const top = yMain(Math.max(b.o, b.c));
          const bot = yMain(Math.min(b.o, b.c));
          return (
            <g key={b.key}>
              <line x1={x} x2={x} y1={yMain(b.h)} y2={yMain(b.l)} stroke={stroke} strokeWidth={1} />
              <rect x={x - 1.5} y={top} width={3} height={Math.max(bot - top, 0.8)} fill={fill} stroke={stroke} strokeWidth={0.8} />
            </g>
          );
        })}
        {bars
          .filter((b) => signalUp.includes(b.key))
          .map((b) => {
            const x = barX(b.i, b.j);
            const y = yMain(b.l) + 3;
            return <path key={b.key} d={`M${x},${y} L${x + 5},${y + 9} L${x - 5},${y + 9} Z`} fill="#33bb33" />;
          })}
        {bars
          .filter((b) => signalDown.includes(b.key))
          .map((b) => {
            const x = barX(b.i, b.j);
            const y = yMain(b.h) - 5;
            return <path key={b.key} d={`M${x},${y} L${x + 5},${y - 9} L${x - 5},${y - 9} Z`} fill="#cc2222" />;
          })}
      </g>
      <path d={seg(rangeTop)} stroke="#3f9a3f" strokeWidth={2.4} strokeDasharray="12,9" fill="none" />
      <path d={seg(rangeBottom)} stroke="#3f9a3f" strokeWidth={2.4} strokeDasharray="12,9" fill="none" />

      {/* histogram / signal panel */}
      <g clipPath="url(#cMacd)">
        <line x1={0} x2={AXIS_X} y1={yMacd(25.4)} y2={yMacd(25.4)} stroke="#a03030" strokeDasharray="8,5" />
        <line x1={0} x2={AXIS_X} y1={yMacd(0)} y2={yMacd(0)} stroke="#8a8a8a" strokeWidth={1.4} />
        {bars.map((b) => {
          const v = macdHist[b.i][b.j];
          const x = barX(b.i, b.j);
          const kind = barColor(b.key);
          return (
            <line key={b.key} x1={x} x2={x} y1={yMacd(0)} y2={yMacd(v)} stroke={kind === 'm' ? '#d030d0' : '#34b8e2'} strokeWidth={1.6} />
          );
        })}
        <path d={lineGrid(yMacd).curve(d3.curveMonotoneX)(macdSignal) as string} stroke="#ec9230" strokeWidth={2} fill="none" />
      </g>

      {/* volume panel */}
      <g clipPath="url(#cVol)">
        <line x1={0} x2={AXIS_X} y1={486} y2={486} stroke="#555" strokeDasharray="2,3" />
        {bars.map((b) => {
          const x = barX(b.i, b.j);
          return <line key={b.key} x1={x} x2={x} y1={yVol(0)} y2={yVol(volume[b.i][b.j])} stroke="#1e1e78" strokeWidth={1.5} />;
        })}
      </g>

      {/* oscillator panel */}
      <g clipPath="url(#cOsc)">
        <line x1={0} x2={AXIS_X} y1={516} y2={516} stroke="#555" strokeDasharray="2,3" />
        <line x1={0} x2={AXIS_X} y1={yOsc(0)} y2={yOsc(0)} stroke="#9a9a9a" />
        {bars.map((b) => {
          const x = barX(b.i, b.j);
          const v = oscHist[b.i][b.j];
          return <line key={b.key} x1={x} x2={x} y1={yOsc(0)} y2={yOsc(v)} stroke="#5cc65c" strokeWidth={1.4} />;
        })}
        <path d={oscFill} fill="#f6b8b8" opacity={0.85} />
        <path d={lineGrid(yOsc)(oscSignal) as string} stroke="#f0a0a0" strokeWidth={1} fill="none" />
        <path d={lineGrid(yOsc)(oscLine) as string} stroke="#b02a2a" strokeWidth={1.2} fill="none" />
      </g>

      {/* directional movement panel */}
      <g clipPath="url(#cDmi)">
        <line x1={0} x2={AXIS_X} y1={yDmi(40)} y2={yDmi(40)} stroke="#555" strokeDasharray="2,3" />
        <line x1={0} x2={AXIS_X} y1={yDmi(20)} y2={yDmi(20)} stroke="#555" strokeDasharray="2,3" />
        <path d={dmiGreen} fill="#8aeb8a" opacity={0.9} />
        <path d={dmiPink} fill="#f4a2a2" opacity={0.9} />
        <path d={lineGrid(yDmi)(diPlus) as string} stroke="#6ccc6c" strokeWidth={1} fill="none" />
        <path d={lineGrid(yDmi)(diMinus) as string} stroke="#a64a2a" strokeWidth={1} fill="none" />
        <path d={lineGrid(yDmi)(adx) as string} stroke="#1a26b0" strokeWidth={2.2} fill="none" />
      </g>

      {/* RSI panel */}
      <g clipPath="url(#cRsi)">
        <rect x={0} y={yRsi(30)} width={AXIS_X} height={panel.rsi[1] - yRsi(30)} fill="#e2f6e2" />
        <path d={rsiHigh} fill="#eab4dc" />
        <line x1={0} x2={AXIS_X} y1={yRsi(70)} y2={yRsi(70)} stroke="#c04848" />
        <line x1={0} x2={AXIS_X} y1={yRsi(50)} y2={yRsi(50)} stroke="#555" strokeDasharray="2,3" />
        <line x1={0} x2={AXIS_X} y1={yRsi(30)} y2={yRsi(30)} stroke="#34b034" strokeWidth={1.2} />
        <path d={lineGrid(yRsi)(rsi) as string} stroke="#1a26b0" strokeWidth={2.2} fill="none" />
      </g>

      {/* panel separators */}
      {separators.map((y) => (
        <rect key={y} x={0} y={y} width={W} height={4.5} fill="#8c8c8c" />
      ))}

      {/* right axis */}
      <line x1={AXIS_X + 0.5} x2={AXIS_X + 0.5} y1={0} y2={668} stroke="#000" />
      {priceTicks.map((v) => (
        <line key={v} x1={AXIS_X} x2={AXIS_X + 5} y1={yMain(v)} y2={yMain(v)} stroke="#000" />
      ))}
      {priceTicks
        .filter((v) => v % 5 === 0)
        .map((v) => (
          <g key={v}>
            <path d={`M${AXIS_X + 1},${yMain(v)} L${AXIS_X + 7},${yMain(v) - 3} L${AXIS_X + 7},${yMain(v) + 3} Z`} fill="#000" />
            <text x={AXIS_X + 10} y={yMain(v)} fontSize={12.5} fontFamily={FONT} dominantBaseline="middle">
              {v}
            </text>
          </g>
        ))}
      {[yMacd(25.4), yMacd(0), 486, 516, 528, yOsc(0), 556, yDmi(40), yDmi(20), yRsi(70), yRsi(50), yRsi(30)].map((y, n) => (
        <line key={n} x1={AXIS_X} x2={AXIS_X + 5} y1={y} y2={y} stroke="#000" />
      ))}
      <text x={AXIS_X + 10} y={570.5} fontSize={10.5} fontFamily={FONT} dominantBaseline="middle">40</text>
      <text x={AXIS_X + 10} y={651} fontSize={11} fontFamily={FONT} dominantBaseline="middle">50</text>
      <path d={`M${AXIS_X + 1},486 L${AXIS_X + 8},483 L${AXIS_X + 8},489 Z`} fill="#1818c8" />

      {tags.map((t, n) => (
        <TagBox key={n} {...t} />
      ))}

      {/* time axis */}
      <text x={1145} y={708} fontSize={18} fontStyle="italic" fontFamily={FONT} fill="#f2f2f2" stroke="#e0e0e0" strokeWidth={0.7}>
        SMGroup
      </text>
      {dayLabels.map((t, i) => (
        <text key={i} x={xDay(i + 0.5)} y={683} fontSize={12.5} fontFamily={FONT} textAnchor="middle" dominantBaseline="middle">
          {t}
        </text>
      ))}
      {monthLabels.map((t, n) => (
        <text key={t} x={xDay(monthCenters[n])} y={697} fontSize={12.5} fontFamily={FONT} textAnchor="middle" dominantBaseline="middle">
          {t}
        </text>
      ))}

      <text x={3} y={714} fontSize={12.5} fontFamily={FONT} dominantBaseline="middle">
        GAZP RX Equity (ОАО Газпром) Graph 119
      </text>
      <text x={715} y={714} fontSize={12.5} fontFamily={FONT} textAnchor="middle" dominantBaseline="middle">
        Copyright© 2014 Bloomberg Finance L.P.
      </text>
      <text x={1352} y={715} fontSize={12.5} fontFamily={FONT} textAnchor="end" dominantBaseline="middle">
        16-Jun-2014 08:27:56
      </text>
    </svg>
  );
}
